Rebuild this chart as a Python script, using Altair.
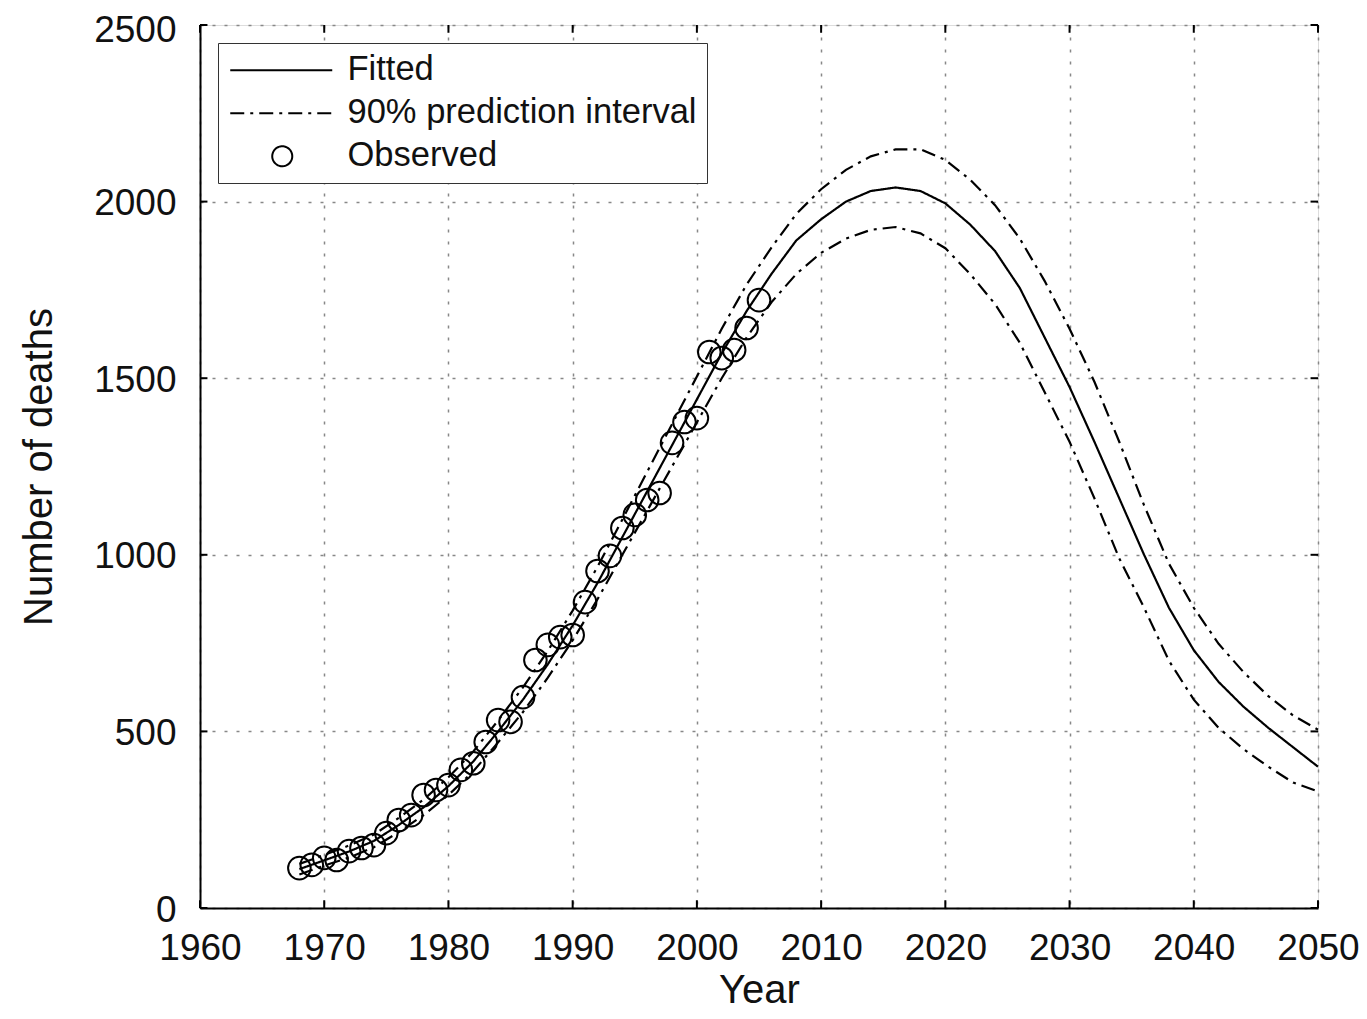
import altair as alt
import pandas as pd

# Observed deaths
obs_years = list(range(1968, 2006))
obs_values = [113, 122, 142, 136, 161, 170, 178, 212, 249, 263,
              320, 334, 348, 391, 410, 470, 532, 527, 597, 702,
              745, 767, 773, 866, 954, 997, 1076, 1113, 1155, 1175,
              1317, 1376, 1387, 1574, 1557, 1580, 1642, 1721]

# Fitted curve and 90% prediction interval (every 2 years)
fit_years = list(range(1968, 2051, 2))
fitted = [110, 135, 160, 190, 235, 285, 345, 415, 500, 590,
          690, 800, 920, 1050, 1180, 1310, 1440, 1570, 1690, 1795,
          1890, 1950, 2000, 2030, 2040, 2030, 1995, 1935, 1860, 1755,
          1615, 1475, 1320, 1160, 1000, 850, 730, 640, 570, 510,
          455, 400]
upper = [125, 150, 177, 208, 255, 307, 370, 443, 531, 625,
         728, 842, 966, 1100, 1235, 1370, 1505, 1640, 1765, 1870,
         1965, 2035, 2090, 2128, 2148, 2148, 2118, 2062, 1990, 1895,
         1775, 1640, 1490, 1320, 1140, 975, 850, 748, 668, 600,
         545, 505]
lower = [95, 120, 143, 172, 215, 263, 320, 387, 469, 555,
         652, 758, 874, 1000, 1125, 1250, 1375, 1500, 1615, 1715,
         1795, 1855, 1895, 1920, 1928, 1910, 1868, 1795, 1710, 1600,
         1460, 1320, 1160, 990, 850, 700, 590, 510, 450, 400,
         355, 330]

x_ticks = [1960, 1970, 1980, 1990, 2000, 2010, 2020, 2030, 2040, 2050]
y_ticks = [0, 500, 1000, 1500, 2000, 2500]

kinds = ["Fitted", "90% prediction interval", "Observed"]

rows = []
for yr, v in zip(fit_years, fitted):
    rows.append({"year": yr, "value": v, "series": "fit", "kind": kinds[0]})
for yr, v in zip(fit_years, upper):
    rows.append({"year": yr, "value": v, "series": "upper", "kind": kinds[1]})
for yr, v in zip(fit_years, lower):
    rows.append({"year": yr, "value": v, "series": "lower", "kind": kinds[1]})
lines_df = pd.DataFrame(rows)
obs_df = pd.DataFrame({"year": obs_years, "value": obs_values, "kind": kinds[2]})

FONT = "Liberation Sans"

x_scale = alt.Scale(domain=[1960, 2050], nice=False, zero=False)
y_scale = alt.Scale(domain=[0, 2500], nice=False)

x_axis = alt.Axis(values=x_ticks, format="d", title="Year", labelFontSize=37,
                  titleFontSize=40, labelPadding=22, titlePadding=4, tickSize=0,
                  labelFont=FONT, titleFont=FONT, labelColor="#111", titleColor="#111",
                  titleFontWeight="normal", grid=True, gridDash=[3, 9], gridColor="#888",
                  gridWidth=1.5, domainColor="black", domainWidth=2, labelFlush=False)
y_axis = alt.Axis(values=y_ticks, format="d", title="Number of deaths", labelFontSize=37,
                  labelOffset={"condition": {"test": "datum.value == 2500", "value": 5},
                               "value": 2},
                  titleFontSize=40, labelPadding=24, titlePadding=34,
                  tickSize=0, labelFont=FONT, titleFont=FONT, labelColor="#111",
                  titleColor="#111", titleFontWeight="normal", grid=True, gridDash=[3, 9],
                  gridColor="#888", gridWidth=1.5, domainColor="black", domainWidth=2,
                  labelFlush=False)

legend = alt.Legend(title=None, orient="none", legendX=18, legendY=18,
                    fillColor="white", strokeColor="#333", padding=10,
                    labelFontSize=34.5, labelFont=FONT, labelColor="#111", labelLimit=600,
                    labelOffset=48, rowPadding=8, symbolSize=900, symbolOffset=37,
                    symbolStrokeColor="black", symbolStrokeWidth=2)

dash_scale = alt.Scale(domain=kinds, range=[[1, 0], [14, 6, 3, 6], [1, 0]])
line_path = "M-3.467,0L3.333,0"
circle_path = "M0.667,0A0.667,0.667,0,1,1,-0.667,0A0.667,0.667,0,1,1,0.667,0Z"
shape_scale = alt.Scale(domain=kinds, range=[line_path, line_path, circle_path])

lines = alt.Chart(lines_df).mark_line(color="black", strokeWidth=2.2).encode(
    x=alt.X("year:Q", scale=x_scale, axis=x_axis),
    y=alt.Y("value:Q", scale=y_scale, axis=y_axis),
    detail="series:N",
    strokeDash=alt.StrokeDash("kind:N", scale=dash_scale, legend=legend, sort=kinds),
)

points = alt.Chart(obs_df).mark_point(filled=False, color="black", strokeWidth=2,
                                       size=1150, opacity=1).encode(
    x=alt.X("year:Q", scale=x_scale),
    y=alt.Y("value:Q", scale=y_scale),
    shape=alt.Shape("kind:N", scale=shape_scale, legend=legend, sort=kinds),
)

# inward tick marks
xt_df = pd.DataFrame({"year": x_ticks})
yt_df = pd.DataFrame({"value": y_ticks})
xt_bottom = alt.Chart(xt_df).mark_rule(color="black", strokeWidth=2).encode(
    x="year:Q", y=alt.datum(0), y2=alt.datum(22))
xt_top = alt.Chart(xt_df).mark_rule(color="black", strokeWidth=2).encode(
    x="year:Q", y=alt.datum(2478), y2=alt.datum(2500))
yt_left = alt.Chart(yt_df).mark_rule(color="black", strokeWidth=2).encode(
    y="value:Q", x=alt.datum(1960), x2=alt.datum(1960.6))
yt_right = alt.Chart(yt_df).mark_rule(color="black", strokeWidth=2).encode(
    y="value:Q", x=alt.datum(2049.4), x2=alt.datum(2050))

chart = alt.layer(lines, points, xt_bottom, xt_top, yt_left, yt_right).properties(
    width=1118, height=883,
    autosize=alt.AutoSizeParams(type="none"),
    padding={"left": 192, "top": 17, "right": 41, "bottom": 103},
).configure_view(stroke="black", strokeWidth=2.5).configure(background="white")

chart.save("out.html", embed_options={"renderer": "svg", "actions": False})
